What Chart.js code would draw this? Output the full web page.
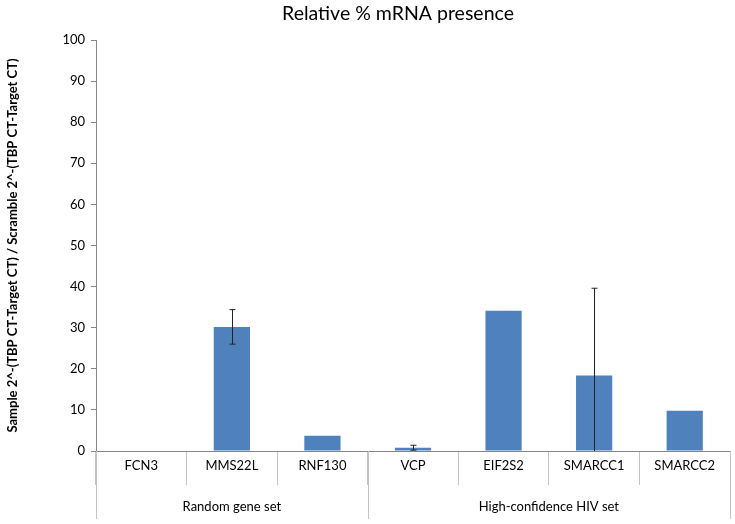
<!DOCTYPE html>
<html>
<head>
<meta charset="utf-8">
<script src="https://cdn.jsdelivr.net/npm/chart.js@4/dist/chart.umd.min.js"></script>
<style>
  html, body { margin: 0; padding: 0; background: #fff; }
  #wrap { width: 735px; height: 524px; position: relative; }
</style>
</head>
<body>
<div id="wrap"><canvas id="mrnaChart"></canvas></div>
<script>
const genes = ["FCN3", "MMS22L", "RNF130", "VCP", "EIF2S2", "SMARCC1", "SMARCC2"];
const presence = [0, 30.2, 3.7, 0.8, 34.1, 18.4, 9.8];
const errors = [0, 4.2, 0, 0.6, 0, 21.2, 0];
const groupNames = ["Random gene set", "High-confidence HIV set"];
const groupSizes = [3, 4];
const yTicks = [0, 10, 20, 30, 40, 50, 60, 70, 80, 90, 100];

const FONT = "Lato, 'Liberation Sans', sans-serif";
Chart.defaults.font.family = FONT;
Chart.defaults.color = "#000";

// error bars, clipped at the chart area like Excel does
const errorBars = {
  id: "errorBars",
  afterDatasetsDraw(chart) {
    const { ctx, chartArea } = chart;
    const y = chart.scales.y;
    const meta = chart.getDatasetMeta(0);
    ctx.save();
    ctx.strokeStyle = "#222";
    ctx.lineWidth = 1;
    errors.forEach((e, i) => {
      if (!e) return;
      const x = Math.round(meta.data[i].x) + 0.5;
      const hi = presence[i] + e, lo = presence[i] - e;
      const yHi = y.getPixelForValue(Math.min(hi, 100));
      const yLo = Math.min(y.getPixelForValue(Math.max(lo, 0)), chartArea.bottom);
      ctx.beginPath();
      ctx.moveTo(x, yHi);
      ctx.lineTo(x, yLo);
      if (hi <= 100) { ctx.moveTo(x - 3, yHi); ctx.lineTo(x + 3, yHi); }
      if (lo >= 0) { ctx.moveTo(x - 3, yLo); ctx.lineTo(x + 3, yLo); }
      ctx.stroke();
    });
    ctx.restore();
  },
};

// group row under the category labels + chart title
const groupAxis = {
  id: "groupAxis",
  afterDraw(chart) {
    const { ctx, chartArea } = chart;
    const x = chart.scales.x;
    const half = (x.getPixelForValue(1) - x.getPixelForValue(0)) / 2;
    ctx.save();
    ctx.strokeStyle = "#c4c4c4";
    ctx.lineWidth = 1;
    ctx.fillStyle = "#000";
    ctx.font = "13px " + FONT;
    ctx.textAlign = "center";
    ctx.textBaseline = "middle";
    let start = 0;
    const edges = [x.getPixelForValue(0) - half];
    groupSizes.forEach((n, g) => {
      const left = x.getPixelForValue(start) - half;
      const right = x.getPixelForValue(start + n - 1) + half;
      edges.push(right);
      ctx.fillText(groupNames[g], (left + right) / 2, 507);
      start += n;
    });
    edges.forEach((px) => {
      const p = Math.round(px) + 0.5;
      ctx.beginPath();
      ctx.moveTo(p, chartArea.bottom);
      ctx.lineTo(p, 519);
      ctx.stroke();
    });
    ctx.font = "19.5px " + FONT;
    ctx.fillText("Relative % mRNA presence", 398, 14);
    ctx.restore();
  },
};

const ctx = document.getElementById("mrnaChart").getContext("2d");

new Chart(ctx, {
  type: "bar",
  data: {
    labels: genes,
    datasets: [
      {
        data: presence,
        backgroundColor: "#4f81bd",
        categoryPercentage: 1,
        barPercentage: 0.4,
      },
    ],
  },
  options: {
    responsive: true,
    maintainAspectRatio: false,
    animation: false,
    layout: { padding: { top: 40, right: 5, left: 0, bottom: 0 } },
    plugins: {
      legend: { display: false },
      tooltip: { enabled: false },
    },
    scales: {
      x: {
        grid: {
          offset: true,
          drawOnChartArea: false,
          tickLength: 34,
          color: "#c4c4c4",
        },
        border: { color: "#868686" },
        ticks: { font: { size: 13 }, padding: -27, color: "#000" },
        afterFit: (scale) => { scale.height = 73; },
      },
      y: {
        min: 0,
        max: 100,
        afterBuildTicks: (scale) => { scale.ticks = yTicks.map((v) => ({ value: v })); },
        grid: { drawOnChartArea: false, tickLength: 5, color: "#868686" },
        border: { color: "#868686" },
        ticks: { font: { size: 13 }, padding: 6, color: "#000" },
        title: {
          display: true,
          text: "Sample 2^-(TBP CT-Target CT) / Scramble 2^-(TBP CT-Target CT)",
          font: { size: 13, weight: "bold" },
          padding: { top: 5, bottom: 0 },
        },
        afterFit: (scale) => { scale.width = 96; },
      },
    },
  },
  plugins: [errorBars, groupAxis],
});
</script>
</body>
</html>
